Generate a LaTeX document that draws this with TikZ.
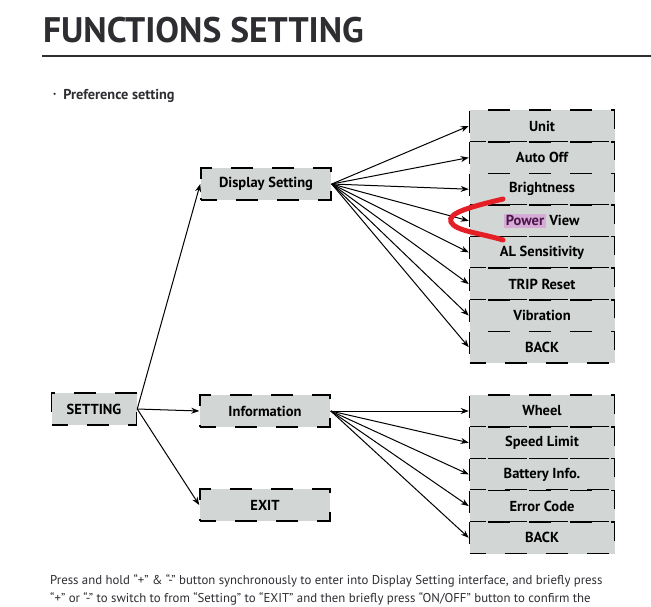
\documentclass[tikz,border=0pt]{standalone}
\usepackage{fontspec}
\setmainfont{PT Sans}
\usetikzlibrary{arrows.meta}
\definecolor{boxgray}{RGB}{210,214,213}
\definecolor{inkgray}{RGB}{45,45,50}
\definecolor{hlpink}{RGB}{214,172,214}
\definecolor{hlpurple}{RGB}{75,20,75}
\definecolor{penred}{RGB}{228,32,38}
\newcommand{\powerhl}[1]{{\setlength{\fboxsep}{1.5pt}\colorbox{hlpink}{\textcolor{hlpurple}{#1}}}}

\begin{document}
\begin{tikzpicture}[x=1pt, y=-1pt,
    box/.style={draw, fill=boxgray, dash pattern=on 22pt off 19pt, dash phase=6pt,
      line width=1.5pt, minimum height=32pt, inner sep=0pt,
      font=\fontsize{14.5}{16}\selectfont\bfseries},
    item/.style={box, minimum width=145pt, minimum height=31.6pt},
    arr/.style={-{Stealth[length=8pt,width=6pt]}, line width=1pt}]
  \useasboundingbox (0,0) rectangle (651,606);

  % heading
  \node[anchor=base west, inner sep=0pt, text=inkgray,
    font=\fontsize{35.5}{38}\selectfont\bfseries] (title) at (43,42) {FUNCTIONS SETTING};
  \draw[inkgray, line width=1.2pt] (42,56) -- (651,56);
  \node[anchor=base west, inner sep=0pt, text=inkgray,
    font=\fontsize{14.3}{16}\selectfont\bfseries] (pref) at (53,99)
    {\raisebox{2.5pt}{\fontsize{7}{8}\selectfont\textbullet}\hspace{7pt}Preference setting};

  % menu boxes
  \node[box, minimum width=85pt] (setting) at (94,409) {SETTING};
  \node[box, minimum width=130pt] (display) at (266,184) {Display Setting};
  \node[box, minimum width=130pt] (info) at (265,411) {Information};
  \node[box, minimum width=130pt] (exit) at (265,505) {EXIT};

  \foreach \t [count=\i] in {Unit, Auto Off, Brightness, \powerhl{Power} View,
      AL Sensitivity, TRIP Reset, Vibration, BACK}
    \node[item] (d\i) at (542,{94.4+31.6*\i}) {\t};
  \foreach \t [count=\i] in {Wheel, Speed Limit, Battery Info., Error Code, BACK}
    \node[item] (n\i) at (542,{379.3+31.7*\i}) {\t};

  % arrows
  \draw[arr] (setting.east) -- (display.west);
  \draw[arr] (setting.east) -- (info.west);
  \draw[arr] (setting.east) -- (exit.west);
  \foreach \i in {1,...,8}
    \draw[arr] (display.east) -- (d\i.west);
  \foreach \i in {1,...,5}
    \draw[arr] (info.east) -- (n\i.west);

  % red pen mark
  \draw[penred, line width=5pt, line cap=round]
    (503,199) .. controls (470,207) and (447,213) .. (451,222)
    .. controls (455,231) and (480,233) .. (503,240);

  % text below
  \node[anchor=base west, inner sep=0pt, text=inkgray,
    font=\fontsize{12.8}{15}\selectfont] (line1) at (50,584)
    {Press and hold “+” \& “-” button synchronously to enter into Display Setting interface, and briefly press};
  \node[anchor=base west, inner sep=0pt, text=inkgray,
    font=\fontsize{12.8}{15}\selectfont] (line2) at (50,602)
    {“+” or “-” to switch to from “Setting” to “EXIT” and then briefly press “ON/OFF” button to confirm the};
\end{tikzpicture}
\end{document}
